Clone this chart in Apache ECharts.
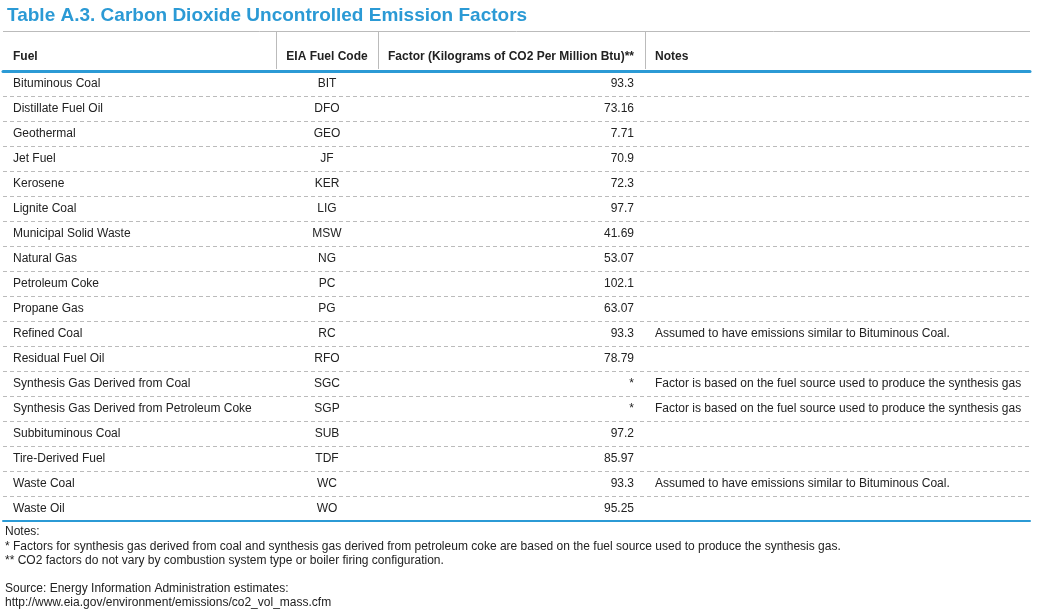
<!DOCTYPE html>
<html lang="en">
  <head>
    <meta charset="utf-8" />
    <style>
      html, body { margin: 0; width: 100%; height: 100%; background: #fff; }
      #container { width: 1037px; height: 610px; }
    </style>
    <script src="https://cdn.jsdelivr.net/npm/echarts@6/dist/echarts.min.js"></script>
  </head>
  <body>
    <div id="container"></div>
    <script>
      var fuels = [
        "Bituminous Coal", "Distillate Fuel Oil", "Geothermal", "Jet Fuel", "Kerosene",
        "Lignite Coal", "Municipal Solid Waste", "Natural Gas", "Petroleum Coke", "Propane Gas",
        "Refined Coal", "Residual Fuel Oil", "Synthesis Gas Derived from Coal",
        "Synthesis Gas Derived from Petroleum Coke", "Subbituminous Coal", "Tire-Derived Fuel",
        "Waste Coal", "Waste Oil"
      ];
      var codes = ["BIT", "DFO", "GEO", "JF", "KER", "LIG", "MSW", "NG", "PC", "PG",
        "RC", "RFO", "SGC", "SGP", "SUB", "TDF", "WC", "WO"];
      // null = factor depends on source fuel (shown as "*")
      var factors = [93.3, 73.16, 7.71, 70.9, 72.3, 97.7, 41.69, 53.07, 102.1, 63.07,
        93.3, 78.79, null, null, 97.2, 85.97, 93.3, 95.25];
      var noteBit = "Assumed to have emissions similar to Bituminous Coal.";
      var noteSyn = "Factor is based on the fuel source used to produce the synthesis gas";
      var notes = ["", "", "", "", "", "", "", "", "", "",
        noteBit, "", noteSyn, noteSyn, "", "", noteBit, ""];
      var headers = ["Fuel", "EIA Fuel Code", "Factor (Kilograms of CO2 Per Million Btu)**", "Notes"];
      var footLines = [
        "Notes:",
        "* Factors for synthesis gas derived from coal and synthesis gas derived from petroleum coke are based on the fuel source used to produce the synthesis gas.",
        "** CO2 factors do not vary by combustion system type or boiler firing configuration.",
        "",
        "Source: Energy Information Administration estimates:",
        "http://www.eia.gov/environment/emissions/co2_vol_mass.cfm"
      ];

      var BLUE = "#2b9ad5";
      var TEXT = "#222";
      var FONT = "Liberation Sans, Arial, Helvetica, sans-serif";
      // column anchors in grid x units (pixels from grid left)
      var colFuel = 10, colCode = 324, colFactor = 631, colNote = 652;
      var seps = [273, 375, 642];

      var chart = echarts.init(document.getElementById("container"));

      var rows = fuels.map(function (f, i) { return [0, i]; });

      function renderRow(params, api) {
        var i = params.dataIndex;
        var p = api.coord([0, api.value(1)]);
        var st = { fill: TEXT, font: "12px " + FONT, verticalAlign: "middle" };
        function txt(x, s, align) {
          return {
            type: "text",
            style: Object.assign({}, st, { x: p[0] + x, y: p[1], text: s, align: align })
          };
        }
        return {
          type: "group",
          children: [
            txt(colFuel, fuels[i], "left"),
            txt(colCode, codes[i], "center"),
            txt(colFactor, factors[i] == null ? "*" : String(factors[i]), "right"),
            txt(colNote, notes[i], "left")
          ]
        };
      }

      var graphics = [
        {
          type: "text", x: 7, y: 16,
          style: { text: "Table A.3. Carbon Dioxide Uncontrolled Emission Factors", fill: BLUE,
            font: "bold 19px " + FONT, verticalAlign: "middle" }
        },
        {
          type: "line", shape: { x1: 3, y1: 31.5, x2: 1030, y2: 31.5 },
          style: { stroke: "#bbb", lineWidth: 1 }
        }
      ];
      var headX = [3 + colFuel, 3 + colCode, 3 + colFactor, 3 + colNote];
      var headAlign = ["left", "center", "right", "left"];
      headers.forEach(function (h, k) {
        graphics.push({
          type: "text", x: headX[k], y: 57,
          style: { text: h, fill: TEXT, font: "bold 12px " + FONT, align: headAlign[k], verticalAlign: "middle" }
        });
      });
      seps.forEach(function (s) {
        graphics.push({
          type: "line", shape: { x1: 3 + s + 0.5, y1: 32, x2: 3 + s + 0.5, y2: 69 },
          style: { stroke: "#bbb", lineWidth: 1 }
        });
      });
      footLines.forEach(function (t, k) {
        graphics.push({
          type: "text", x: 5, y: 532 + k * 14.2,
          style: { text: t, fill: TEXT, font: "12px " + FONT, verticalAlign: "middle" }
        });
      });

      var hiddenAxis = {
        type: "value", min: 0, max: 1027,
        axisLabel: { show: false }, axisTick: { show: false }, splitLine: { show: false }
      };

      chart.setOption({
        animation: false,
        grid: { left: 3, right: 7, top: 71, bottom: 89 },
        xAxis: [
          Object.assign({}, hiddenAxis, { position: "top", axisLine: { show: true, lineStyle: { color: BLUE, width: 3 } } }),
          Object.assign({}, hiddenAxis, { position: "bottom", axisLine: { show: true, lineStyle: { color: BLUE, width: 2 } } })
        ],
        yAxis: {
          type: "category", inverse: true, data: fuels,
          axisLine: { show: false }, axisTick: { show: false }, axisLabel: { show: false },
          splitLine: { show: true, lineStyle: { color: "#bbb", type: [4, 3], width: 1 } }
        },
        graphic: graphics,
        series: [
          {
            type: "custom", xAxisIndex: 0, data: rows,
            encode: { x: 0, y: 1 }, renderItem: renderRow, z: 10
          }
        ]
      });
    </script>
  </body>
</html>
